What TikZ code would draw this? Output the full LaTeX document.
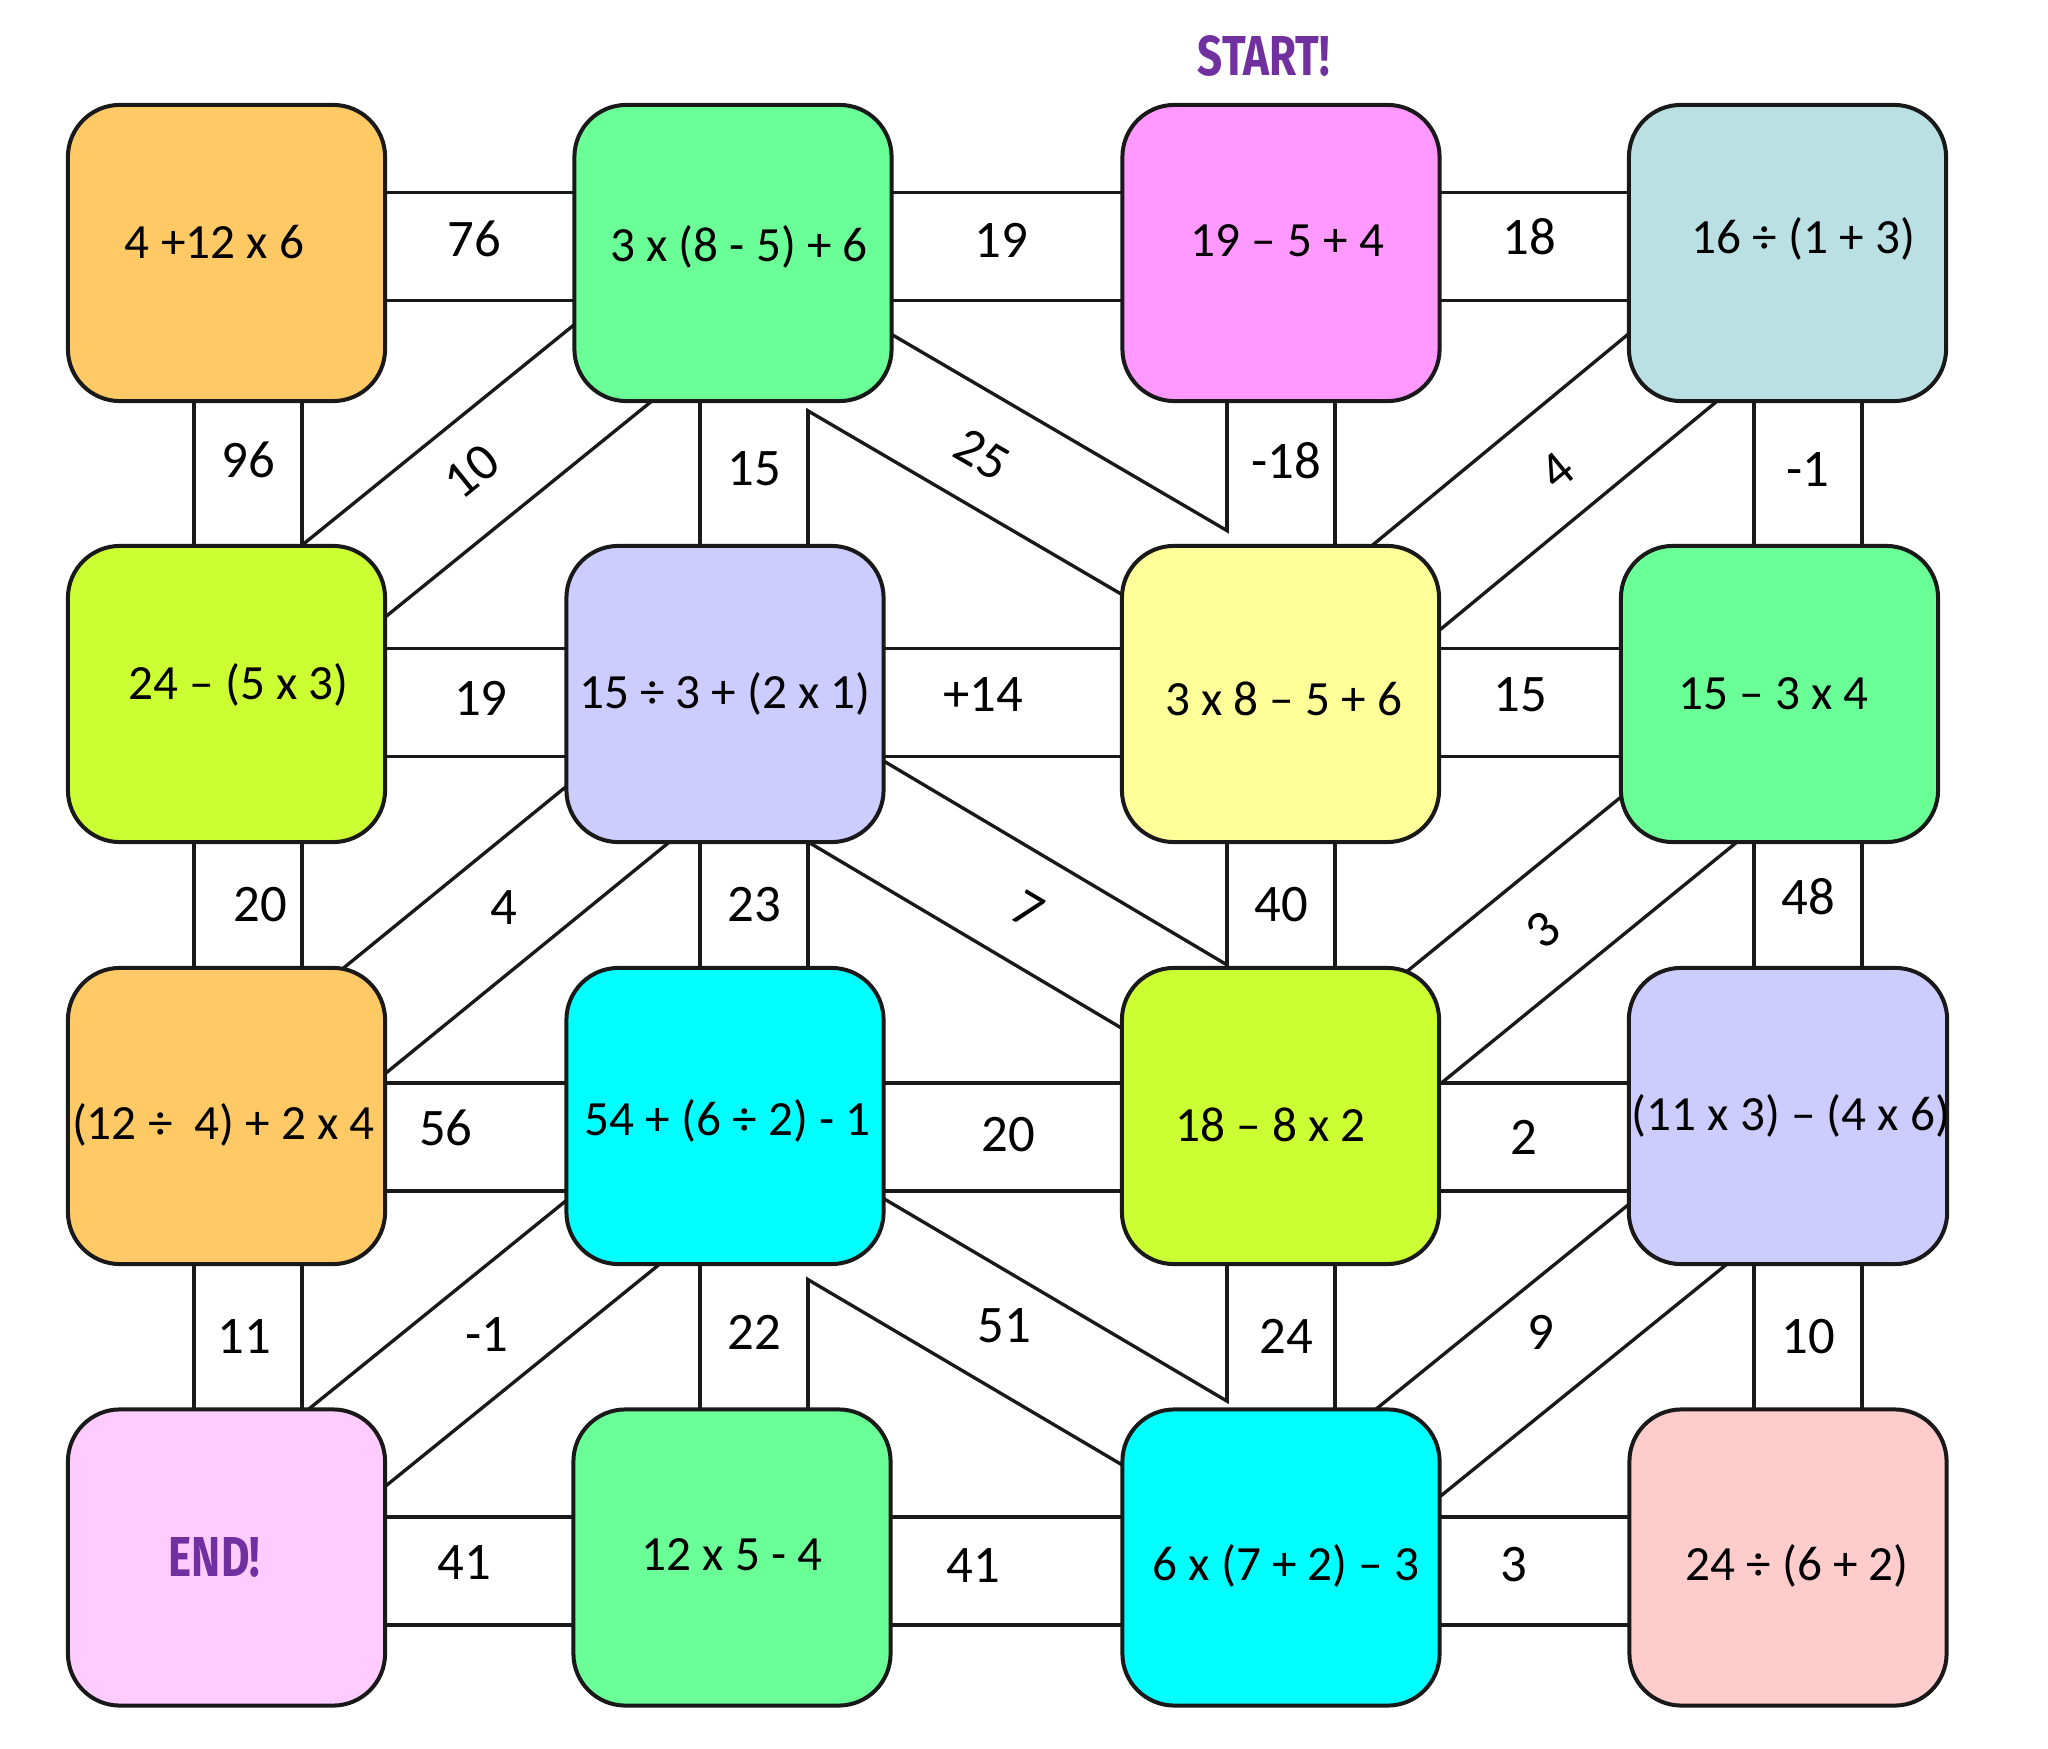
\documentclass[tikz,border=0pt]{standalone}
\usepackage{fontspec}
\setmainfont{Carlito}
\newfontfamily\signfont{Fira Sans}
\usetikzlibrary{calc}

\definecolor{orangebox}{HTML}{FFC966}
\definecolor{greenbox}{HTML}{6BFF98}
\definecolor{magentabox}{HTML}{FF99FF}
\definecolor{tealbox}{HTML}{BBE0E3}
\definecolor{limebox}{HTML}{CCFF33}
\definecolor{lavenderbox}{HTML}{CCCCFF}
\definecolor{yellowbox}{HTML}{FFFF99}
\definecolor{cyanbox}{HTML}{00FFFF}
\definecolor{pinkbox}{HTML}{FFCCFF}
\definecolor{rosebox}{HTML}{FFCCCC}
\definecolor{signpurple}{HTML}{7030A0}

\pgfdeclarelayer{paper}
\pgfdeclarelayer{bandline}
\pgfdeclarelayer{bandfill}
\pgfsetlayers{paper,bandline,bandfill,main}

\newlength\pxl
\setlength\pxl{0.01cm}

% a strip of the maze: black outline below, white inside above
\newcommand{\band}[4]{%
  \begin{pgfonlayer}{bandline}
    \draw[bandedge] #1 -- #2;
  \end{pgfonlayer}
  \begin{pgfonlayer}{bandfill}
    \draw[bandfill] #1 -- node[number,#3] {#4} #2;
  \end{pgfonlayer}}
% text set off the middle of its box: right #1, up #2 (pixels)
\newcommand{\nudge}[3]{\hspace*{#1\pxl}\raisebox{#2\pxl}[\height][\depth]{#3}\hspace*{-#1\pxl}}
\newcommand{\sign}[1]{{\fontsize{16}{18}\signfont\bfseries\color{signpurple}\scalebox{0.78}[1]{#1}}}

\begin{document}
\begin{tikzpicture}[x=0.01cm,y=-0.01cm,
    box/.style={draw=black!90,line width=0.04cm,rounded corners=0.52cm,minimum width=3.17cm,minimum height=2.96cm,inner sep=0pt,font=\fontsize{14}{16}\selectfont},
    bandedge/.style={draw=black!90,line width=1.115cm},
    bandfill/.style={draw=white,line width=1.045cm},
    number/.style={font=\fontsize{15}{17}\selectfont,inner sep=0pt}]

	\begin{pgfonlayer}{paper}
	\fill[white] (0,0) rectangle (2048,1749);
	\end{pgfonlayer}
	\useasboundingbox (0,0) rectangle (2048,1749);

	\node[box,fill=orangebox]   (b11) at (226.5,253)    {\nudge{-12}{10.5}{4 +12 x 6}};
	\node[box,fill=greenbox]    (b12) at (733,253)      {\nudge{6}{6.5}{3 x (8 - 5) + 6}};
	\node[box,fill=magentabox]  (b13) at (1281,253)     {\nudge{6.5}{12}{19 – 5 + 4}};
	\node[box,fill=tealbox]     (b14) at (1787.5,253)   {\nudge{16}{14}{16 ÷ (1 + 3)}};
	\node[box,fill=limebox]     (b21) at (226.5,694)    {\nudge{12}{9}{24 – (5 x 3)}};
	\node[box,fill=lavenderbox] (b22) at (725,694)      {15 ÷ 3 + (2 x 1)};
	\node[box,fill=yellowbox]   (b23) at (1280.5,694)   {\nudge{3}{-5}{3 x 8 – 5 + 6}};
	\node[box,fill=greenbox]    (b24) at (1779.5,694)   {\nudge{-6}{0}{15 – 3 x 4}};
	\node[box,fill=orangebox]   (b31) at (226.5,1116)   {\nudge{-3}{-9}{(12 ÷~ 4) + 2 x 4}};
	\node[box,fill=cyanbox]     (b32) at (725,1116)     {\nudge{2.5}{-5}{54 + (6 ÷ 2) - 1}};
	\node[box,fill=limebox]     (b33) at (1280.5,1116)  {\nudge{-10}{-9}{18 – 8 x 2}};
	\node[box,fill=lavenderbox] (b34) at (1788,1116)    {\nudge{3}{0}{(11 x 3) – (4 x 6)}};
	\node[box,fill=pinkbox]     (b41) at (226.5,1557.5) {\nudge{-12}{0}{\sign{END!}}};
	\node[box,fill=greenbox]    (b42) at (732,1557.5)   {\nudge{0}{2.5}{12 x 5 - 4}};
	\node[box,fill=cyanbox]     (b43) at (1281,1557.5)  {\nudge{5}{-8}{6 x (7 + 2) – 3}};
	\node[box,fill=rosebox]     (b44) at (1788,1557.5)  {\nudge{9}{-8}{24 ÷ (6 + 2)}};
	\node (start) at (1264,56) {\sign{START!}};

	% axes of the straight strips
	\coordinate (r1) at (0,246.5);
	\coordinate (r2) at (0,702.5);
	\coordinate (r3) at (0,1137);
	\coordinate (r4) at (0,1571);
	\coordinate (c1) at (248,0);
	\coordinate (c2) at (754,0);
	\coordinate (c3) at (1281,0);
	\coordinate (c4) at (1808,0);

	\band{(b11 |- r1)}{(b12 |- r1)}{pos=.49,yshift=.08cm}{76}
	\band{(b12 |- r1)}{(b13 |- r1)}{pos=.49,yshift=.065cm}{19}
	\band{(b13 |- r1)}{(b14 |- r1)}{pos=.49,yshift=.1cm}{18}
	\band{(b21 |- r2)}{(b22 |- r2)}{pos=.51,yshift=.04cm}{19}
	\band{(b22 |- r2)}{(b23 |- r2)}{pos=.465,yshift=.08cm}{+14}
	\band{(b23 |- r2)}{(b24 |- r2)}{pos=.48,yshift=.08cm}{15}
	\band{(b31 |- r3)}{(b32 |- r3)}{pos=.44,yshift=.09cm}{56}
	\band{(b32 |- r3)}{(b33 |- r3)}{pos=.51,yshift=.025cm}{20}
	\band{(b33 |- r3)}{(b34 |- r3)}{pos=.48}{2}
	\band{(b41 |- r4)}{(b42 |- r4)}{pos=.47,yshift=.08cm}{41}
	\band{(b42 |- r4)}{(b43 |- r4)}{pos=.44,yshift=.05cm}{41}
	\band{(b43 |- r4)}{(b44 |- r4)}{pos=.46,yshift=.065cm}{3}

	\band{(b11 -| c1)}{(b21 -| c1)}{pos=.47}{96}
	\band{(b12 -| c2)}{(b22 -| c2)}{pos=.49}{15}
	\band{(b13 -| c3)}{(b23 -| c3)}{pos=.47,xshift=.05cm}{-18}
	\band{(b14 -| c4)}{(b24 -| c4)}{pos=.49}{-1}
	\band{(b21 -| c1)}{(b31 -| c1)}{pos=.50,xshift=.12cm}{20}
	\band{(b22 -| c2)}{(b32 -| c2)}{pos=.50}{23}
	\band{(b23 -| c3)}{(b33 -| c3)}{pos=.50}{40}
	\band{(b24 -| c4)}{(b34 -| c4)}{pos=.48}{48}
	\band{(b31 -| c1)}{(b41 -| c1)}{pos=.50,xshift=-.04cm}{11}
	\band{(b32 -| c2)}{(b42 -| c2)}{pos=.49}{22}
	\band{(b33 -| c3)}{(b43 -| c3)}{pos=.50,xshift=.05cm}{24}
	\band{(b34 -| c4)}{(b44 -| c4)}{pos=.50}{10}

	\band{($(b12)+(0,12.7)$)}{($(b21)+(0,-18)$)}{pos=.51,sloped,yshift=.05cm}{10}
	\band{($(b12)+(0,51.3)$)}{($(b23)+(0,-69.4)$)}{pos=.458,sloped,yshift=-.04cm}{25}
	\band{($(b14)+(0,19.9)$)}{($(b23)+(0,-2.8)$)}{pos=.463,sloped,yshift=-.06cm}{4}
	\band{($(b22)+(0,32.9)$)}{($(b31)+(0,17.2)$)}{pos=.444}{4}
	\band{($(b22)+(0,35.7)$)}{($(b33)+(0,-56.4)$)}{pos=.545,sloped}{7}
	\band{($(b24)+(0,43.6)$)}{($(b33)+(0,28.3)$)}{pos=.474,sloped}{3}
	\band{($(b32)+(0,25.6)$)}{($(b41)+(0,-12.2)$)}{pos=.477}{-1}
	\band{($(b32)+(0,51.8)$)}{($(b43)+(0,-61.7)$)}{pos=.502,yshift=.065cm}{51}
	\band{($(b34)+(0,29)$)}{($(b43)+(0,-1.8)$)}{pos=.488,yshift=.13cm}{9}
\end{tikzpicture}
\end{document}
